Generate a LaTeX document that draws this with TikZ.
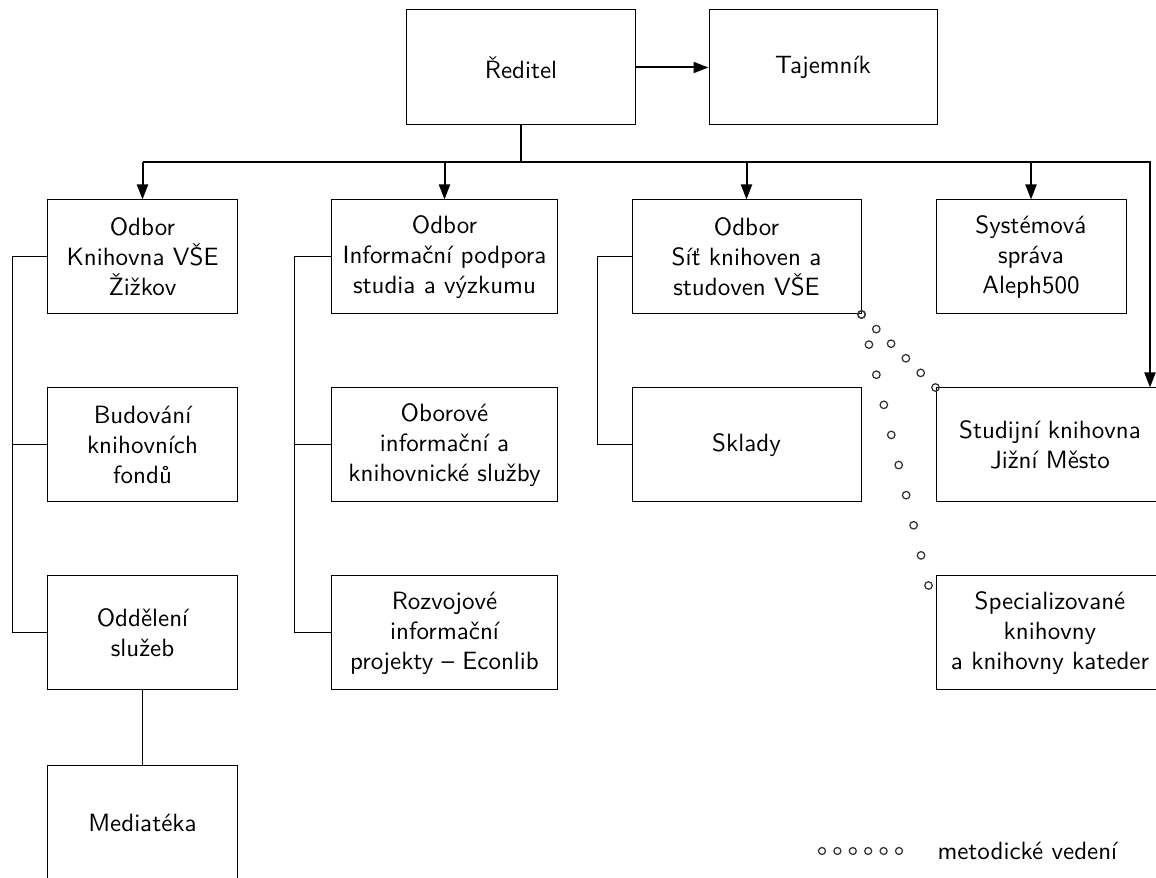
\documentclass[tikz,border=0pt]{standalone}
\usepackage{fontspec}
\usetikzlibrary{arrows.meta,calc}
\begin{document}
\begin{tikzpicture}[x=0.4pt,y=-0.4pt,
  every node/.style={font=\sffamily\fontsize{10}{12}\selectfont},
  box/.style={draw, line width=0.4pt, align=center, inner sep=0pt,
    minimum height=45.6pt, minimum width=75.6pt},
  conn/.style={line width=0.8pt},
  arr/.style={conn, -{Triangle[length=6pt,width=4.4pt]}},
  tree/.style={line width=0.4pt},
  dot/.style={draw=black!80, line width=0.5pt}]
\useasboundingbox (0,0) rectangle (1156,878);
\clip (0,0) rectangle (1156,878);

% boxes
\node[box, minimum width=91.2pt, minimum height=46pt] (red) at (521,67.5) {Ředitel};
\node[box, minimum width=91.2pt, minimum height=46pt] (taj) at (823,67.5) {Tajemník};
\node[box] (b1) at (142.5,257) {Odbor\\Knihovna VŠE\\Žižkov};
\node[box, minimum width=90pt] (b2) at (444.5,257) {Odbor\\Informační podpora\\studia a výzkumu};
\node[box, minimum width=91.6pt] (b3) at (746.5,257) {Odbor\\Síť knihoven a\\studoven VŠE};
\node[box, minimum width=76pt] (b4) at (1031,257) {Systémová\\správa\\Aleph500};
\node[box] (bud) at (142.5,445) {Budování\\knihovních\\fondů};
\node[box, minimum width=90pt] (obo) at (444.5,445) {Oborové\\informační a\\knihovnické služby};
\node[box, minimum width=91.6pt] (skl) at (746.5,445) {Sklady};
\node[box, minimum width=91.2pt] (stud) at (1050,445) {Studijní knihovna\\Jižní Město};
\node[box] (odd) at (142.5,633) {Oddělení\\služeb};
\node[box, minimum width=90pt] (roz) at (444.5,633) {Rozvojové\\informační\\projekty – Econlib};
\node[box, minimum width=91.2pt] (spec) at (1050,633) {Specializované\\knihovny\\a knihovny kateder};
\node[box] (med) at (142.5,823) {Mediatéka};

% main connectors
\coordinate (busL) at (142.5,162);
\coordinate (busR) at (1150,162);
\draw[arr] (red.east) -- (taj.west);
\draw[conn] (red.south) -- (red.south |- busL);
\draw[arr] (b1.north |- busL) -- (busR) -- (busR |- stud.north);
\foreach \n in {b1,b2,b3,b4} \draw[arr] (\n.north |- busR) -- (\n.north);

% tree lines
\coordinate (t1) at (12,0);
\coordinate (t2) at (294,0);
\coordinate (t3) at (597,0);
\draw[tree] (b1.west) -- (b1.west -| t1) |- (odd.west);
\draw[tree] (bud.west) -- (bud.west -| t1);
\draw[tree] (b2.west) -- (b2.west -| t2) |- (roz.west);
\draw[tree] (obo.west) -- (obo.west -| t2);
\draw[tree] (b3.west) -- (b3.west -| t3) |- (skl.west);
\draw[tree] (odd.south) -- (med.north);

% methodical guidance (circles)
\coordinate (sd) at ($(spec.north west)+(-7,10)$);
\foreach \t [evaluate=\t as \f using \t/5] in {0,...,5}
  \draw[dot] ($(b3.south east)!\f!(stud.north west)$) circle (1.5pt);
\foreach \t [evaluate=\t as \f using \t/9] in {0,...,9}
  \draw[dot] ($(b3.south east)!\f!(sd)$) circle (1.5pt);

% legend
\node[anchor=west, inner sep=0pt] (leg) at (937,851) {metodické vedení};
\coordinate (g1) at (822,851);
\coordinate (g2) at (899,851);
\foreach \t [evaluate=\t as \f using \t/5] in {0,...,5}
  \draw[dot] ($(g1)!\f!(g2)$) circle (1.4pt);
\end{tikzpicture}
\end{document}
